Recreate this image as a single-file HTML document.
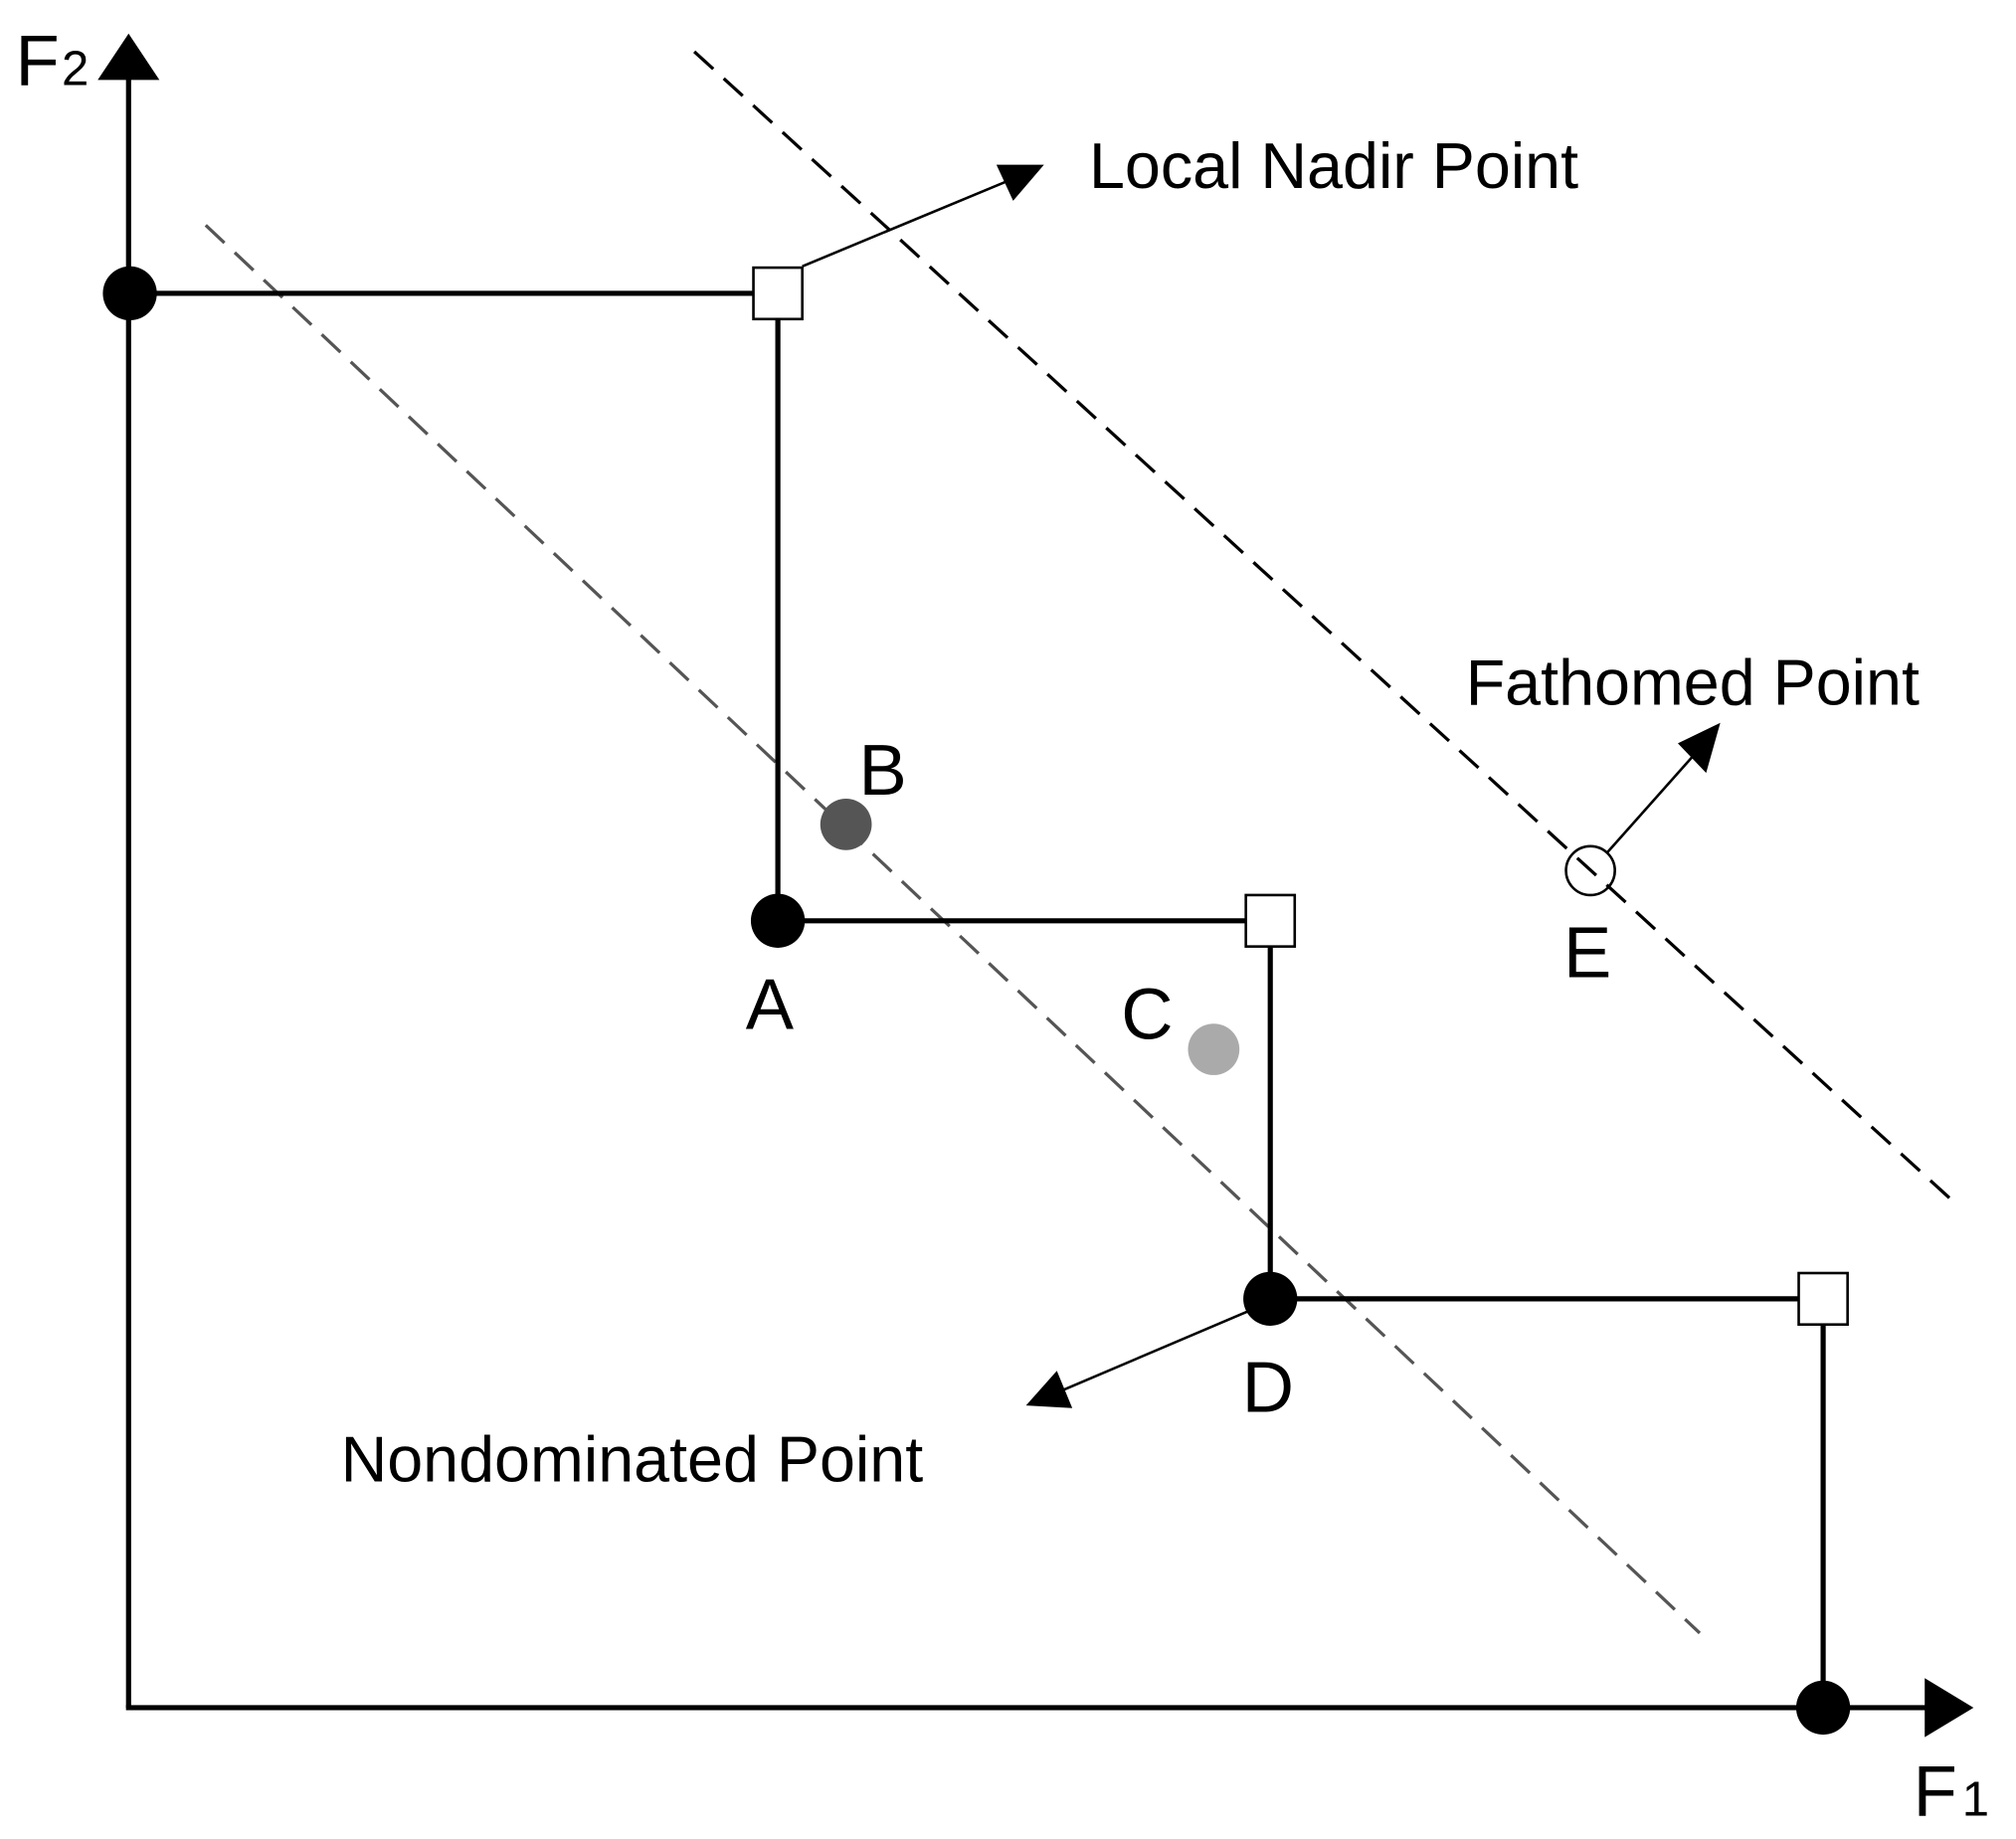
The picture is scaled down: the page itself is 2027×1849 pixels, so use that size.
<!DOCTYPE html>
<html><head><style>html,body{margin:0;padding:0;background:#fff}svg{display:block}</style></head>
<body>
<svg width="2027" height="1849" viewBox="0 0 1568 1430" xmlns="http://www.w3.org/2000/svg" font-family="Liberation Sans, Arial, sans-serif">
<rect width="1568" height="1430" fill="#fff"/>
<!-- dashed lines -->
<line x1="540" y1="40" x2="1520" y2="935" stroke="#000" stroke-width="2.5" stroke-dasharray="20,11"/>
<line x1="160" y1="175" x2="1322" y2="1270" stroke="#555" stroke-width="2.5" stroke-dasharray="20,11"/>
<!-- axes -->
<line x1="100" y1="1328" x2="100" y2="55" stroke="#000" stroke-width="4"/>
<polygon points="100,26 76,62 124,62" fill="#000"/>
<line x1="98" y1="1328" x2="1500" y2="1328" stroke="#000" stroke-width="4"/>
<polygon points="1535,1328 1497,1305 1497,1351" fill="#000"/>
<text x="12" y="66" font-size="56">F</text><text x="48" y="66" font-size="38">2</text>
<text x="1488" y="1412" font-size="56">F</text><text x="1526" y="1412" font-size="38">1</text>
<!-- staircase -->
<polyline points="100,228 605,228 605,716 988,716 988,1010 1418,1010 1418,1328" fill="none" stroke="#000" stroke-width="4"/>
<rect x="586" y="208" width="38" height="40" fill="#fff" stroke="#000" stroke-width="2"/>
<rect x="969" y="696" width="38" height="40" fill="#fff" stroke="#000" stroke-width="2"/>
<rect x="1399" y="990" width="38" height="40" fill="#fff" stroke="#000" stroke-width="2"/>
<ellipse cx="101" cy="228" rx="21" ry="21" fill="#000"/>
<circle cx="605" cy="716" r="21" fill="#000"/>
<circle cx="988" cy="1010" r="21" fill="#000"/>
<circle cx="1418" cy="1328" r="21" fill="#000"/>
<circle cx="658" cy="641" r="20" fill="#555"/>
<circle cx="944" cy="816" r="20" fill="#aaa"/>
<circle cx="1237" cy="677" r="19" fill="none" stroke="#000" stroke-width="2"/>
<!-- labels -->
<text x="668" y="618" font-size="56">B</text>
<text x="580" y="800" font-size="56">A</text>
<text x="872" y="808" font-size="56">C</text>
<text x="966" y="1098" font-size="56">D</text>
<text x="1216" y="760" font-size="56">E</text>
<!-- callouts -->
<line x1="624" y1="207" x2="790" y2="138" stroke="#000" stroke-width="2"/>
<polygon points="812,128 775,128 788,156" fill="#000"/>
<text x="847" y="146" font-size="50">Local Nadir Point</text>
<line x1="1250" y1="663" x2="1322" y2="582" stroke="#000" stroke-width="2"/>
<polygon points="1338,562 1305,578 1327,601" fill="#000"/>
<text x="1140" y="548" font-size="50">Fathomed Point</text>
<line x1="970" y1="1020" x2="815" y2="1086" stroke="#000" stroke-width="2"/>
<polygon points="798,1093 822,1066 834,1095" fill="#000"/>
<text x="265" y="1152" font-size="50">Nondominated Point</text>
</svg>
</body></html>
